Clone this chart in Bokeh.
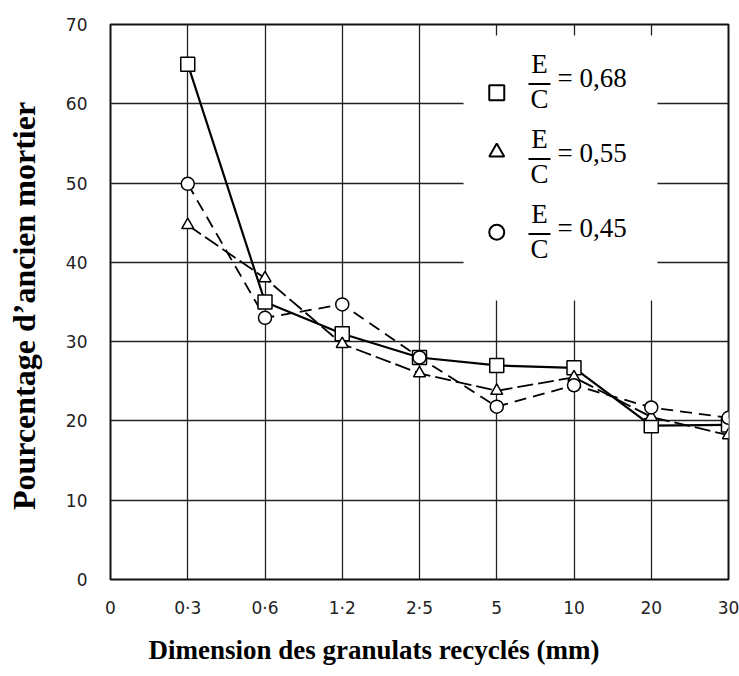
from bokeh.plotting import figure
from bokeh.models import FixedTicker, Label, BoxAnnotation, Title
from bokeh.embed import file_html
from bokeh.resources import INLINE

# ---- data ----
x_labels = ["0", "0·3", "0·6", "1·2", "2·5", "5", "10", "20", "30"]
x_pos = [1, 2, 3, 4, 5, 6, 7, 8]          # category index of each measured size
ec_068 = [65, 35, 31, 28, 27, 26.7, 19.4, 19.5]
ec_055 = [44.7, 38, 29.7, 26, 23.8, 25.5, 20.5, 18.2]
ec_045 = [49.9, 33, 34.7, 28, 21.8, 24.5, 21.7, 20.4]
legend_labels = ["= 0,68", "= 0,55", "= 0,45"]
y_ticks = [0, 10, 20, 30, 40, 50, 60, 70]

p = figure(width=739, height=676, output_backend="svg", toolbar_location=None,
           x_range=(0, 8), y_range=(0, 70),
           min_border_left=110, min_border_right=11, min_border_top=24, min_border_bottom=20)
p.background_fill_color = "white"
p.border_fill_color = "white"
p.outline_line_color = "#111111"
p.outline_line_width = 2

p.xaxis.ticker = FixedTicker(ticks=list(range(len(x_labels))))
p.xaxis.major_label_overrides = {i: t for i, t in enumerate(x_labels)}
p.yaxis.ticker = FixedTicker(ticks=y_ticks)
for ax in (p.xaxis, p.yaxis):
    ax.axis_line_color = None
    ax.major_tick_line_color = None
    ax.minor_tick_line_color = None
    ax.major_label_text_font = "DejaVu Sans"
    ax.major_label_text_font_size = "17px"
    ax.major_label_text_color = "#222222"
p.xaxis.major_label_standoff = 12
p.yaxis.major_label_standoff = 17

p.yaxis.axis_label = "Pourcentage  d\u2019ancien mortier"
p.yaxis.axis_label_text_font = "Liberation Serif"
p.yaxis.axis_label_text_font_style = "bold"
p.yaxis.axis_label_text_font_size = "32px"
p.yaxis.axis_label_text_color = "black"
p.yaxis.axis_label_standoff = 21

p.grid.grid_line_color = "#222222"
p.grid.grid_line_width = 1.3
p.xgrid.ticker = FixedTicker(ticks=list(range(len(x_labels))))
p.ygrid.ticker = FixedTicker(ticks=y_ticks)

# x title (offset left of frame centre, as in the original)
p.add_layout(Title(text="Dimension des granulats recyclés (mm)", align="left", offset=38,
                   text_font="Liberation Serif", text_font_style="bold",
                   text_font_size="27px", text_color="black", standoff=24), "below")

# legend background
p.add_layout(BoxAnnotation(left=4.57, right=7.08, bottom=35.2, top=68.6,
                           fill_color="white", fill_alpha=1, line_color=None, level="underlay"))

# series
p.line(x_pos, ec_045, line_color="black", line_width=1.8, line_dash="12 7")
p.line(x_pos, ec_055, line_color="black", line_width=1.8, line_dash="16 5")
p.line(x_pos, ec_068, line_color="black", line_width=2.2)
p.scatter(x_pos, ec_068, marker="square", size=14, fill_color="white", line_color="black", line_width=1.5)
p.scatter(x_pos, ec_055, marker="triangle", size=12, fill_color="white", line_color="black", line_width=1.5)
p.scatter(x_pos, ec_045, marker="circle", size=13, fill_color="white", line_color="black", line_width=1.5)

# legend
markers = ["square", "triangle", "circle"]
marker_y = [61.4, 53.9, 43.8]
for i, (m, lab) in enumerate(zip(markers, legend_labels)):
    p.scatter([5.0], [marker_y[i]], marker=m, size=15, fill_color="white",
              line_color="black", line_width=2)
    dy = 75 * i
    p.add_layout(Label(x=429, y=579 - 78 - dy, x_units="screen", y_units="screen", text="E",
                       text_align="center", text_font="Liberation Serif",
                       text_font_size="27px", text_color="black"))
    p.add_layout(Label(x=429, y=579 - 113 - dy, x_units="screen", y_units="screen", text="C",
                       text_align="center", text_font="Liberation Serif",
                       text_font_size="27px", text_color="black"))
    p.add_layout(BoxAnnotation(left=418, right=440, bottom=579 - 84.5 - dy, top=579 - 82.5 - dy,
                               left_units="screen", right_units="screen",
                               bottom_units="screen", top_units="screen",
                               fill_color="black", fill_alpha=1, line_color=None))
    p.add_layout(Label(x=447, y=579 - 92 - dy, x_units="screen", y_units="screen", text=lab,
                       text_align="left", text_font="Liberation Serif",
                       text_font_size="27px", text_color="black"))

open("out.html", "w").write(file_html(p, INLINE))
